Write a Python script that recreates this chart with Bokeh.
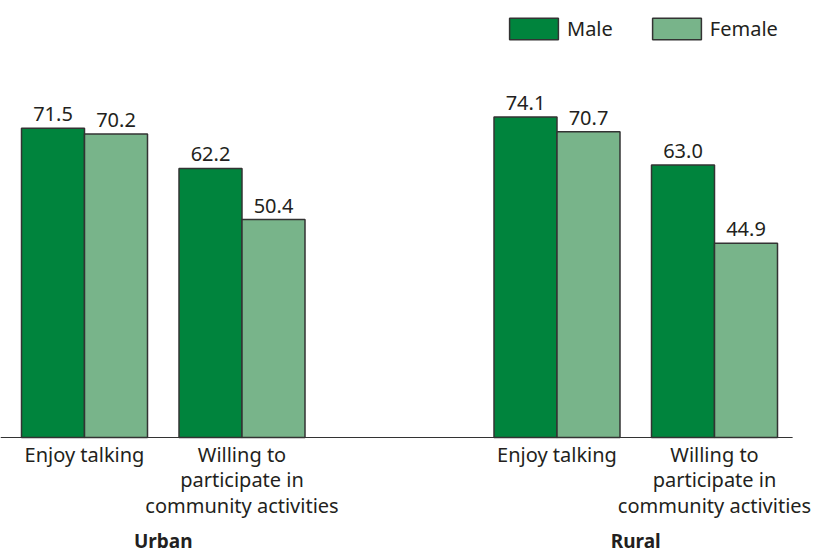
from bokeh.plotting import figure
from bokeh.models import ColumnDataSource, Range1d, Legend, LegendItem
from bokeh.core.properties import value
from bokeh.embed import file_html
from bokeh.resources import INLINE

# ---- data ----
regions = ["Urban", "Rural"]
categories = ["Enjoy talking", "Willing to\nparticipate in\ncommunity activities"]
sexes = ["Male", "Female"]
male_values = [71.5, 62.2, 74.1, 63.0]     # Urban-Enjoy, Urban-Willing, Rural-Enjoy, Rural-Willing
female_values = [70.2, 50.4, 70.7, 44.9]

# ---- layout (screen geometry) ----
W, H = 817, 555
BAR_PX = 63.0           # one x unit = one bar width
X0_PX = 52.5            # screen x of unit 0
PX_PER_VAL = 4.325
BASE_PX = 437           # screen y of value 0
CAT_GAP = 2.5
REG_GAP = 7.5

x_start = -X0_PX / BAR_PX
x_end = (W - X0_PX) / BAR_PX
y_end = BASE_PX / PX_PER_VAL
y_start = -(H - BASE_PX) / PX_PER_VAL

FONT = "Noto Sans"
MALE_C = "#00843d"
FEMALE_C = "#78b48a"
EDGE = "#333333"
TXT = "#231f20"

xm, xf, cat_x, cat_lab, reg_x = [], [], [], [], []
for r, reg in enumerate(regions):
    for c, cat in enumerate(categories):
        base = r * REG_GAP + c * CAT_GAP
        xm.append(base)
        xf.append(base + 1)
        cat_x.append(base + 0.5)
        cat_lab.append(cat)
    reg_x.append(r * REG_GAP + (CAT_GAP + 1) / 2)

p = figure(width=W, height=H, x_range=Range1d(x_start, x_end), y_range=Range1d(y_start, y_end),
           x_axis_type=None, y_axis_type=None, toolbar_location=None, output_backend="svg",
           min_border=0, outline_line_color=None, background_fill_color="white")
p.grid.visible = False

src_m = ColumnDataSource(dict(x=xm, top=male_values, lab=[f"{v:.1f}" for v in male_values]))
src_f = ColumnDataSource(dict(x=xf, top=female_values, lab=[f"{v:.1f}" for v in female_values]))

rm = p.vbar(x="x", top="top", width=1, bottom=0, source=src_m, fill_color=MALE_C,
            line_color=EDGE, line_width=1.5)
rf = p.vbar(x="x", top="top", width=1, bottom=0, source=src_f, fill_color=FEMALE_C,
            line_color=EDGE, line_width=1.5)

for s in (src_m, src_f):
    p.text(x="x", y="top", text="lab", source=s, text_align="center", text_baseline="alphabetic",
           y_offset=-14, text_font=value(FONT), text_font_size="20px", text_color=TXT)

# baseline
p.segment(x0=[x_start], y0=[0], x1=[max(xf) + 0.5 + 0.24], y1=[0], line_color=EDGE, line_width=1.2)

# category labels
p.text(x=cat_x, y=[0] * len(cat_x), text=cat_lab, text_align="center", text_baseline="top",
       y_offset=3, text_font=value(FONT), text_font_size="20px", text_color=TXT, text_line_height=0.95)

# region labels
p.text(x=reg_x, y=[0] * len(reg_x), text=regions, text_align="center", text_baseline="alphabetic",
       y_offset=103, text_font=value(FONT), text_font_size="19px", text_font_style="bold", text_color=TXT)

legend = Legend(items=[LegendItem(label=sexes[0], renderers=[rm]), LegendItem(label=sexes[1], renderers=[rf])],
                orientation="horizontal", location=(503, 513), glyph_width=61, glyph_height=27,
                label_standoff=3, spacing=33, padding=0, margin=0, border_line_alpha=0,
                background_fill_alpha=0, label_text_font=FONT, label_text_font_size="20px",
                label_text_color=TXT, label_height=27)
p.add_layout(legend)

open("out.html", "w").write(file_html(p, INLINE))
